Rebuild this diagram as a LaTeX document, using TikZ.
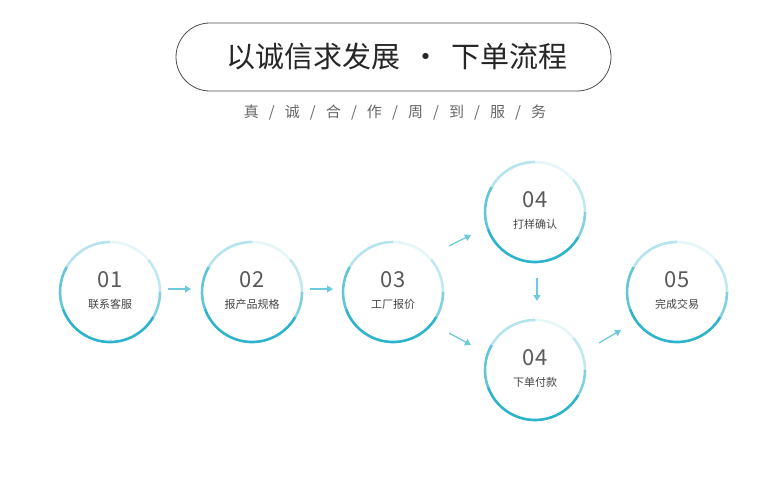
\documentclass[tikz,border=0pt]{standalone}
\usepackage{fontspec}
\setmainfont{Noto Sans CJK SC}
\usetikzlibrary{arrows.meta}
\definecolor{teal}{HTML}{2DB3CB}
\definecolor{txt}{HTML}{444444}
\tikzset{
 stepnode/.style={circle,minimum size=100pt,inner sep=0pt},
 arr/.style={draw=teal!70,line width=1.3pt,-{Triangle[length=6pt,width=7pt]}}
}
\newcommand{\ring}[1]{%
 \foreach \a/\b/\o in {90/150/0.35,150/200/0.75,200/330/1,330/360/0.6,0/40/0.3,40/90/0.12}{%
  \draw[teal,opacity=\o,line width=2.6pt] ([shift={(\a:50pt)}]#1) arc[start angle=\a,end angle=\b,radius=50pt];}}
\begin{document}
\begin{tikzpicture}[x=1pt,y=-1pt]
\useasboundingbox (0,0) rectangle (782,492);
\node[draw=black!70,line width=0.8pt,rounded corners=34pt,minimum width=435pt,minimum height=68pt] (title) at (393.5,57) {};
\node[font=\fontsize{29}{33}\selectfont,text=black!85] (tt) at (397,57) {以诚信求发展 \,•\, 下单流程};
\node[font=\fontsize{15}{18}\selectfont,text=black!60] (sub) at (395,113) {真 \ \ / \ \ 诚 \ \ / \ \ 合 \ \ / \ \ 作 \ \ / \ \ 周 \ \ / \ \ 到 \ \ / \ \ 服 \ \ / \ \ 务};
\foreach \n/\x/\y/\num/\lab in {a/110/292/01/联系客服,b/252/292/02/报产品规格,c/393/292/03/工厂报价,d/535/212/04/打样确认,e/535/370/04/下单付款,f/677/292/05/完成交易}{
 \node[stepnode] (\n) at (\x,\y) {};
 \node[font=\fontsize{22}{24}\selectfont,text=black!65] (\n num) at (\x,\y-12) {\num};
 \node[font=\fontsize{11}{13}\selectfont,text=txt] (\n lab) at (\x,\y+12) {\lab};
 \ring{\n}
}
\coordinate (ab1) at (168,289); \coordinate (ab2) at (191,289);
\coordinate (bc1) at (310,289); \coordinate (bc2) at (333,289);
\coordinate (cd1) at (449,246); \coordinate (cd2) at (471,235);
\coordinate (ce1) at (449,333); \coordinate (ce2) at (471,345);
\coordinate (de1) at (537,278); \coordinate (de2) at (537,301);
\coordinate (ef1) at (599,343); \coordinate (ef2) at (621,330);
\draw[arr] (ab1) -- (ab2);
\draw[arr] (bc1) -- (bc2);
\draw[arr] (cd1) -- (cd2);
\draw[arr] (ce1) -- (ce2);
\draw[arr] (de1) -- (de2);
\draw[arr] (ef1) -- (ef2);
\end{tikzpicture}
\end{document}
